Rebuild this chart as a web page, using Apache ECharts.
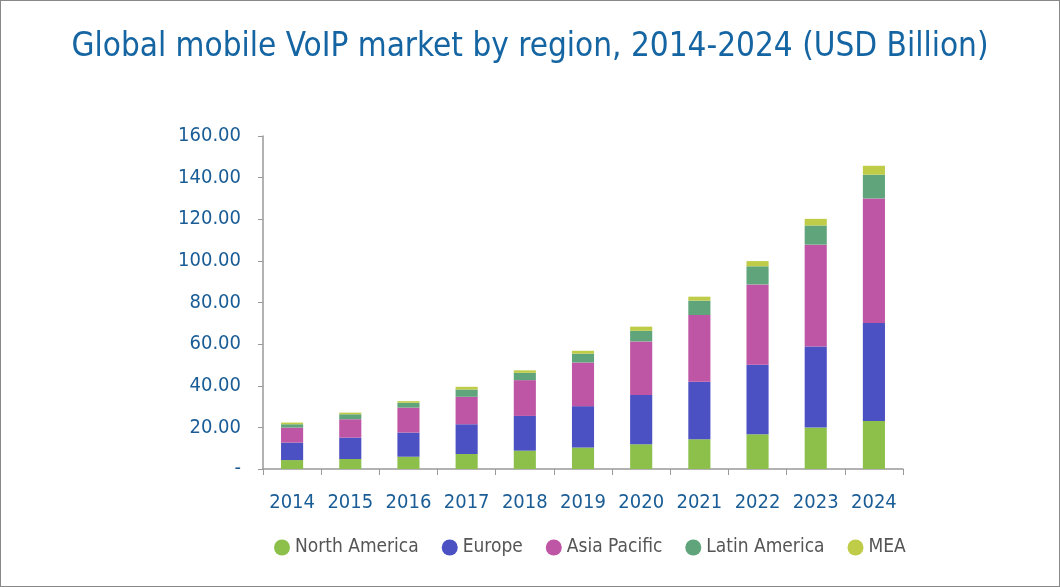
<!DOCTYPE html>
<html><head><meta charset="utf-8">
<script src="https://cdn.jsdelivr.net/npm/echarts@6/dist/echarts.min.js"></script>
<style>html,body{margin:0;padding:0;background:#fff}#c{width:1060px;height:587px;box-sizing:border-box;border:1px solid #888}</style>
</head><body><div id="c"></div>
<script>
const years = ['2014','2015','2016','2017','2018','2019','2020','2021','2022','2023','2024'];
const northAmerica = [4.3, 4.8, 5.9, 7.2, 8.8, 10.3, 11.9, 14.3, 16.7, 19.9, 23.1];
const europe       = [8.4, 10.3, 11.6, 14.3, 16.7, 19.9, 23.6, 27.6, 33.4, 39.0, 47.0];
const asiaPacific  = [7.2, 8.8, 12.0, 13.2, 17.2, 21.0, 25.8, 32.1, 38.6, 48.9, 59.9];
const latinAmerica = [1.6, 2.4, 2.3, 3.5, 3.5, 4.2, 5.1, 6.9, 8.7, 9.2, 11.4];
const mea          = [0.8, 0.8, 0.8, 1.3, 1.2, 1.4, 2.0, 1.9, 2.5, 3.2, 4.3];
const seriesNames = ['North America','Europe','Asia Pacific','Latin America','MEA'];
const colors = ['#8cc04b','#4b50c2','#bf55a5','#5fa47a','#bfcc48'];
const FONT = '"DejaVu Sans Condensed","Liberation Sans Narrow","Roboto",sans-serif';
const chart = echarts.init(document.getElementById('c'));
const dataArr = [northAmerica, europe, asiaPacific, latinAmerica, mea];
chart.setOption({
  animation:false,
  title:{text:'Global mobile VoIP market by region, 2014-2024 (USD Billion)',left:'center',top:25,
    textStyle:{color:'#1565a3',fontSize:33,fontWeight:'normal',fontFamily:FONT}},
  legend:{bottom:24,left:268,icon:'circle',itemWidth:16,itemHeight:16,itemGap:23,
    textStyle:{color:'#555',fontSize:19,fontFamily:FONT},data:seriesNames},
  grid:{left:262,right:156,top:135,bottom:117},
  xAxis:{type:'category',data:years,
    axisLine:{lineStyle:{color:'#999',width:1.5}},
    axisTick:{show:true,length:6,lineStyle:{color:'#999'}},
    axisLabel:{color:'#1a5d96',fontSize:20,fontFamily:FONT,margin:24,interval:0}},
  yAxis:{type:'value',min:0,max:160,interval:20,
    splitLine:{show:false},
    axisLine:{show:true,lineStyle:{color:'#999',width:1.5}},
    axisTick:{show:true,length:5,lineStyle:{color:'#999'}},
    axisLabel:{color:'#1a5d96',fontSize:20,fontFamily:FONT,margin:22,
      formatter:v=>v===0?'-':v.toFixed(2)}},
  series: seriesNames.map((n,i)=>({name:n,type:'bar',stack:'t',data:dataArr[i],
    barWidth:'38%',itemStyle:{color:colors[i]}}))
});
</script></body></html>
